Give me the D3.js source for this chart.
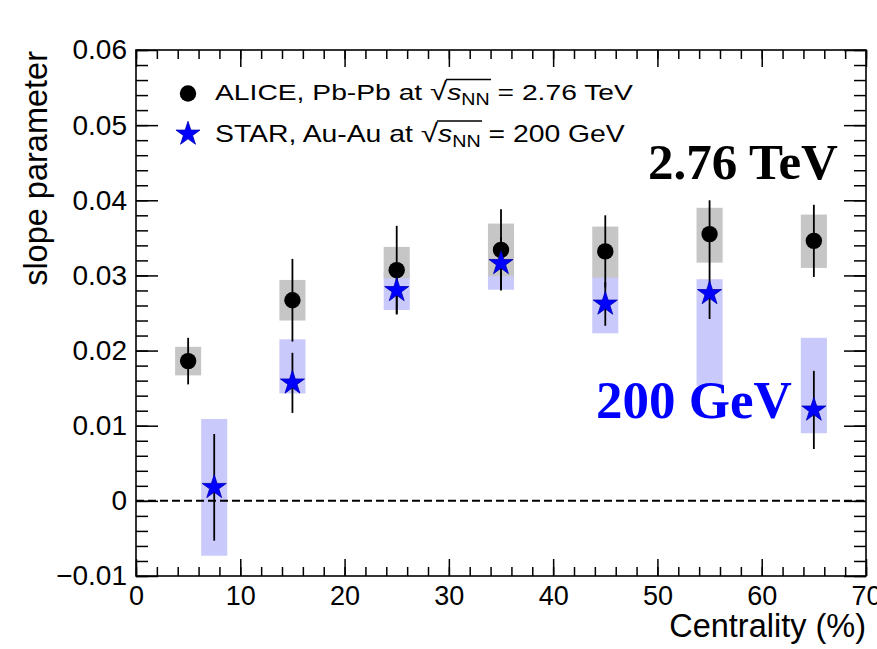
<!DOCTYPE html>
<html>
<head>
<meta charset="utf-8">
<script src="https://cdn.jsdelivr.net/npm/d3@7"></script>
<style>
  html, body { margin: 0; padding: 0; background: #fff; }
  svg { display: block; }
</style>
</head>
<body>
<svg id="chart" width="877" height="649"></svg>
<script>
// Centrality dependence of the slope parameter: ALICE Pb-Pb vs STAR Au-Au
const aliceCentrality = [5, 15, 25, 35, 45, 55, 65];
const aliceSlope      = [0.0186, 0.0267, 0.0307, 0.0334, 0.0332, 0.0355, 0.0346];
const aliceStat       = [0.0031, 0.0055, 0.0059, 0.0054, 0.0048, 0.0045, 0.0048];
const aliceSysLow     = [0.0167, 0.0240, 0.0296, 0.0299, 0.0297, 0.0317, 0.0310];
const aliceSysHigh    = [0.0205, 0.0294, 0.0338, 0.0369, 0.0365, 0.0390, 0.0381];

const starCentrality  = [7.5, 15, 25, 35, 45, 55, 65];
const starSlope       = [0.0018, 0.0157, 0.0280, 0.0316, 0.0262, 0.0276, 0.0121];
const starStat        = [0.0071, 0.0040, 0.0031, 0.0035, 0.0029, 0.0034, 0.0052];
const starSysLow      = [-0.0073, 0.0143, 0.0254, 0.0281, 0.0223, 0.0153, 0.0090];
const starSysHigh     = [0.0109, 0.0215, 0.0305, 0.0351, 0.0300, 0.0295, 0.0217];

const xTicks = [0, 10, 20, 30, 40, 50, 60, 70];
const yTicks = [-0.01, 0, 0.01, 0.02, 0.03, 0.04, 0.05, 0.06];
const xDomain = [0, 70];
const yDomain = [-0.01, 0.06];

const xTitle = "Centrality (%)";
const yTitle = "slope parameter";
const aliceLabel = { pre: "ALICE, Pb-Pb at ", post: " = 2.76 TeV" };
const starLabel  = { pre: "STAR, Au-Au at ",  post: " = 200 GeV" };
const bigLabels = ["2.76 TeV", "200 GeV"];

// ---------------------------------------------------------------------------
const W = 877, H = 649;
const M = { left: 136, right: 11, top: 50, bottom: 73 };
const svg = d3.select("#chart");
const sans = "'Liberation Sans', Arial, Helvetica, sans-serif";
const serif = "'Liberation Serif', 'Times New Roman', serif";

const x = d3.scaleLinear().domain(xDomain).range([M.left, W - M.right]);
const y = d3.scaleLinear().domain(yDomain).range([H - M.bottom, M.top]);

const alice = aliceCentrality.map((c, i) => ({
  c, v: aliceSlope[i], e: aliceStat[i], lo: aliceSysLow[i], hi: aliceSysHigh[i]
}));
const star = starCentrality.map((c, i) => ({
  c, v: starSlope[i], e: starStat[i], lo: starSysLow[i], hi: starSysHigh[i]
}));

const boxHalf = 1.25; // half width of systematic boxes, in centrality units
const plot = svg.append("g");

// systematic boxes
function boxes(data, fill) {
  plot.append("g").selectAll("rect").data(data).join("rect")
    .attr("x", d => x(d.c - boxHalf))
    .attr("width", d => x(d.c + boxHalf) - x(d.c - boxHalf))
    .attr("y", d => y(d.hi))
    .attr("height", d => y(d.lo) - y(d.hi))
    .attr("fill", fill);
}
boxes(star, "#c9c9fb");
boxes(alice, "#c6c6c6");

// zero reference line
plot.append("line")
  .attr("x1", x(xDomain[0])).attr("x2", x(xDomain[1]))
  .attr("y1", y(0)).attr("y2", y(0))
  .attr("stroke", "#000").attr("stroke-width", 2)
  .attr("stroke-dasharray", "8,4");

// statistical error bars
function errBars(data) {
  plot.append("g").selectAll("line").data(data).join("line")
    .attr("x1", d => x(d.c)).attr("x2", d => x(d.c))
    .attr("y1", d => y(d.v + d.e)).attr("y2", d => y(d.v - d.e))
    .attr("stroke", "#000").attr("stroke-width", 1.8);
}
errBars(alice);
errBars(star);

// markers
const starPath = d3.symbol(d3.symbolStar, 180)();
plot.append("g").selectAll("circle").data(alice).join("circle")
  .attr("cx", d => x(d.c)).attr("cy", d => y(d.v)).attr("r", 8.2)
  .attr("fill", "#000");
plot.append("g").selectAll("path").data(star).join("path")
  .attr("d", starPath)
  .attr("transform", d => `translate(${x(d.c)},${y(d.v)})`)
  .attr("fill", "#0000ff").attr("stroke", "#0000b0").attr("stroke-width", 0.8);

// axes: ticks on all four sides, pointing inward
const xMinor = d3.range(0, 70.001, 2);
const yMinor = d3.range(-0.01, 0.0601, 0.002);
const axes = svg.append("g");

function addAxis(gen, tx, ty) {
  const g = axes.append("g").attr("transform", `translate(${tx},${ty})`).call(gen);
  g.select(".domain").remove();
  g.selectAll(".tick line").attr("stroke", "#000").attr("stroke-width", 1.5);
  return g;
}
const xb = addAxis(d3.axisBottom(x).tickValues(xTicks).tickSize(-17).tickPadding(10)
  .tickFormat(d3.format("d")), 0, H - M.bottom);
xb.selectAll("text").attr("font-family", sans).attr("font-size", 27).attr("fill", "#000");
addAxis(d3.axisBottom(x).tickValues(xMinor).tickSize(-9).tickFormat(""), 0, H - M.bottom);
addAxis(d3.axisTop(x).tickValues(xTicks).tickSize(-17).tickFormat(""), 0, M.top);
addAxis(d3.axisTop(x).tickValues(xMinor).tickSize(-9).tickFormat(""), 0, M.top);

const yl = addAxis(d3.axisLeft(y).tickValues(yTicks).tickSize(-22).tickPadding(9)
  .tickFormat(d => d === 0 ? "0" : d3.format(".2f")(d).replace("-", "\u2212")), M.left, 0);
yl.selectAll("text").attr("font-family", sans).attr("font-size", 28).attr("fill", "#000");
addAxis(d3.axisLeft(y).tickValues(yMinor).tickSize(-12).tickFormat(""), M.left, 0);
addAxis(d3.axisRight(y).tickValues(yTicks).tickSize(-22).tickFormat(""), W - M.right, 0);
addAxis(d3.axisRight(y).tickValues(yMinor).tickSize(-12).tickFormat(""), W - M.right, 0);

// frame
axes.append("rect")
  .attr("x", M.left).attr("y", M.top)
  .attr("width", W - M.left - M.right).attr("height", H - M.top - M.bottom)
  .attr("fill", "none").attr("stroke", "#000").attr("stroke-width", 1.6);

// axis titles
svg.append("text")
  .attr("x", W - M.right).attr("y", 637)
  .attr("text-anchor", "end")
  .attr("font-family", sans).attr("font-size", 32.5).attr("fill", "#000")
  .text(xTitle);
svg.append("text")
  .attr("transform", `translate(47,${M.top + 1}) rotate(-90)`)
  .attr("text-anchor", "end")
  .attr("font-family", sans).attr("font-size", 32.5).attr("fill", "#000")
  .text(yTitle);

// legend
function legendEntry(label, baseline, targetWidth) {
  const g = svg.append("g");
  const t = g.append("text")
    .attr("font-family", sans).attr("font-size", 23).attr("fill", "#000");
  t.append("tspan").text(label.pre);
  t.append("tspan").attr("font-size", 25.5).text("\u221A");
  t.append("tspan").attr("font-style", "italic").text("s");
  t.append("tspan").attr("font-size", 16).attr("dy", 5).text("NN");
  t.append("tspan").attr("dy", -5).text(label.post);
  const node = t.node();
  const rootIdx = label.pre.length;
  const rootBox = node.getExtentOfChar(rootIdx);
  const lastSub = node.getExtentOfChar(rootIdx + 3);
  g.append("line")
    .attr("x1", rootBox.x + rootBox.width - 1).attr("x2", lastSub.x + lastSub.width + 1)
    .attr("y1", rootBox.y + 2.5).attr("y2", rootBox.y + 2.5)
    .attr("stroke", "#000").attr("stroke-width", 1.3);
  const w = node.getComputedTextLength();
  const sx = targetWidth / w;
  g.attr("transform", `translate(215,${baseline}) scale(${sx},1)`);
  return g;
}
legendEntry(aliceLabel, 100, 418);
legendEntry(starLabel, 141.5, 410);

const legendX = x(xDomain[0]) + 52;
svg.append("circle").attr("cx", legendX).attr("cy", 93.5).attr("r", 8.2).attr("fill", "#000");
svg.append("path").attr("d", starPath)
  .attr("transform", `translate(${legendX},134)`)
  .attr("fill", "#0000ff").attr("stroke", "#0000b0").attr("stroke-width", 0.8);

// energy labels
svg.append("text")
  .attr("x", 648).attr("y", 179)
  .attr("font-family", serif).attr("font-weight", "bold").attr("font-size", 51)
  .attr("fill", "#000")
  .text(bigLabels[0]);
svg.append("text")
  .attr("x", 596).attr("y", 418)
  .attr("font-family", serif).attr("font-weight", "bold").attr("font-size", 53)
  .attr("fill", "#0000ff")
  .text(bigLabels[1]);
</script>
</body>
</html>
